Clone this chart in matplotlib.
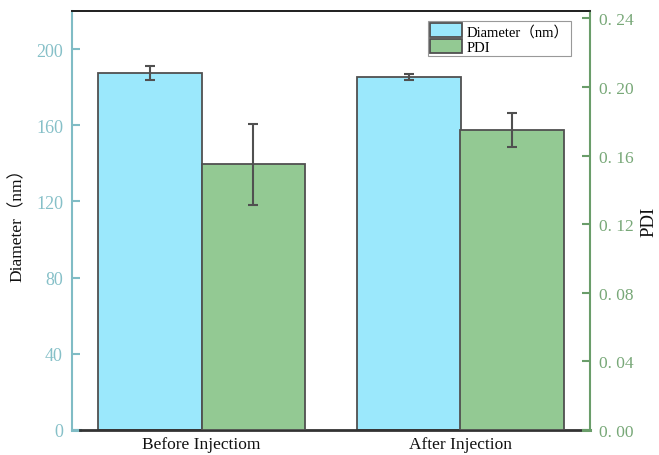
import matplotlib
matplotlib.use("Agg")
import matplotlib.pyplot as plt
from matplotlib.lines import Line2D
import numpy as np

# Data
groups = ["Before Injectiom", "After Injection"]
diameter = [187.5, 185.5]
diameter_err = [3.6, 1.5]
pdi = [0.155, 0.175]
pdi_err = [0.0236, 0.0098]

left_ticks = [0, 40, 80, 120, 160, 200]
right_ticks = [0.00, 0.04, 0.08, 0.12, 0.16, 0.20, 0.24]
right_tick_labels = ["0. 00", "0. 04", "0. 08", "0. 12", "0. 16", "0. 20", "0. 24"]

# Styling
serif = ["Liberation Serif", "Noto Sans CJK SC"]
blue_fill = "#9be8fc"
green_fill = "#93c993"
edge = "#505050"
teal = "#80bcc5"
teal_text = "#86c0c8"
green_axis = "#6a9d6a"
green_text = "#78a878"

plt.rcParams["font.family"] = serif

fig = plt.figure(figsize=(6.59, 4.56), dpi=100)
ax = fig.add_axes([72 / 659, 1 - 431 / 456, 518 / 659, 419 / 456])
ax2 = ax.twinx()

x = np.arange(len(groups))
w = 0.4

b1 = ax.bar(x - w / 2, diameter, width=w, color=blue_fill, edgecolor=edge,
            linewidth=1.3, label="Diameter（nm）", zorder=2)
ax.errorbar(x - w / 2, diameter, yerr=diameter_err, fmt="none", ecolor=edge,
            elinewidth=1.5, capsize=3.3, capthick=1.5, zorder=3)

b2 = ax2.bar(x + w / 2, pdi, width=w, color=green_fill, edgecolor=edge,
             linewidth=1.3, label="PDI", zorder=2)
ax2.errorbar(x + w / 2, pdi, yerr=pdi_err, fmt="none", ecolor=edge,
             elinewidth=1.5, capsize=3.3, capthick=1.5, zorder=3)

ax.set_xlim(-0.5, 1.5)
ax.set_ylim(0, 220)
ax2.set_ylim(0, 0.2443)

ax.set_xticks(x)
ax.set_xticklabels(groups, fontsize=12.5, color="#111111")
ax.tick_params(axis="x", length=0, pad=4)

ax.set_yticks(left_ticks)
ax.set_yticklabels([str(t) for t in left_ticks], fontsize=13, color=teal_text)
ax.tick_params(axis="y", colors=teal, labelcolor=teal_text, length=6,
               width=1.5, direction="in", pad=6.5)

ax2.set_yticks(right_ticks)
ax2.set_yticklabels(right_tick_labels, fontsize=12.5, color=green_text)
ax2.tick_params(axis="y", colors=green_axis, labelcolor=green_text, length=6,
                width=1.5, direction="in", pad=6.5)

ax.set_ylabel("Diameter（nm）", fontsize=12.5, color="#111111")
ax.yaxis.set_label_coords(-0.090, 0.5)
ax2.set_ylabel("PDI", fontsize=13.5, color="#111111", rotation=90)
ax2.yaxis.set_label_coords(1.098, 0.5)

# Spines
for a in (ax, ax2):
    a.spines["top"].set_color("#222222")
    a.spines["top"].set_linewidth(1.3)
    a.spines["bottom"].set_visible(False)
ax.spines["left"].set_color(teal)
ax.spines["left"].set_linewidth(1.5)
ax.spines["right"].set_visible(False)
ax2.spines["left"].set_visible(False)
ax2.spines["right"].set_color(green_axis)
ax2.spines["right"].set_linewidth(1.5)

# Baseline: dark in the middle, axis-coloured stubs at each end
tr = ax.transAxes
ax.add_line(Line2D([0.0, 0.015], [0, 0], transform=tr, color=teal, lw=2.2,
                   clip_on=False, zorder=5))
ax.add_line(Line2D([0.015, 0.986], [0, 0], transform=tr, color="#333333",
                   lw=2.0, clip_on=False, zorder=5))
ax.add_line(Line2D([0.986, 1.0], [0, 0], transform=tr, color=green_axis,
                   lw=2.2, clip_on=False, zorder=5))

leg = ax2.legend([b1, b2], ["Diameter（nm）", "PDI"], loc="upper right",
                 bbox_to_anchor=(0.963, 0.976), borderaxespad=0,
                 fancybox=False, framealpha=1, edgecolor="#999999",
                 fontsize=10.5, handlelength=2.2, handleheight=1.1,
                 labelspacing=0.05, handletextpad=0.3, borderpad=0.15)
leg.get_frame().set_linewidth(0.8)

fig.savefig("out.png", dpi=100)
